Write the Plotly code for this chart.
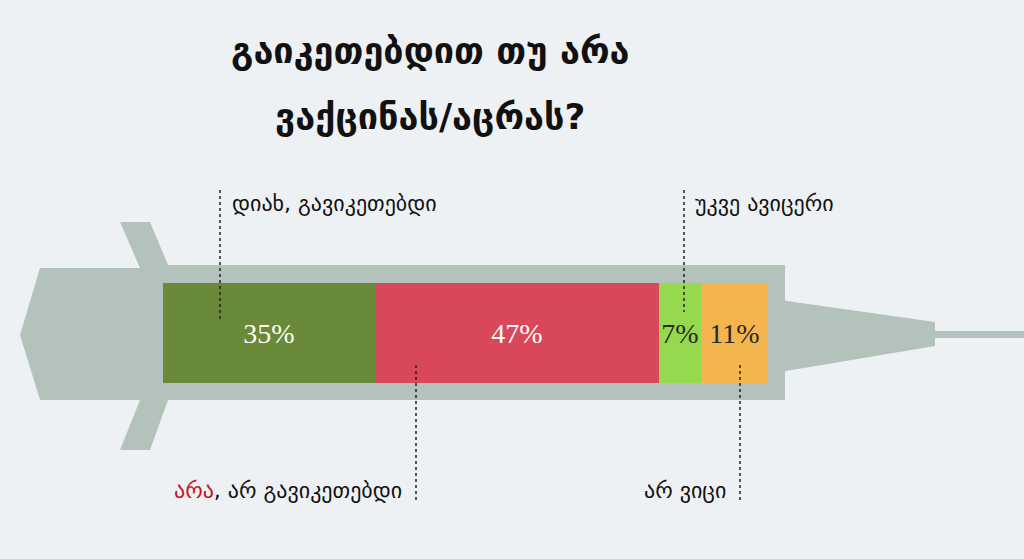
import plotly.graph_objects as go

categories = ["დიახ, გავიკეთებდი", "არა, არ გავიკეთებდი", "უკვე ავიცერი", "არ ვიცი"]
values = [35, 47, 7, 11]
colors = ["#698a38", "#d9475a", "#95d94f", "#f4b54e"]
text_colors = ["white", "white", "#2a2a2a", "#2a2a2a"]

W, H = 1024, 559
def px(x): return x / W
def py(y): return 1 - y / H

fig = go.Figure()
for c, v, col, tc in zip(categories, values, colors, text_colors):
    fig.add_trace(go.Bar(x=[v], y=[H - 333], orientation="h", width=100,
                         marker=dict(color=col, line=dict(width=0)),
                         text=[f"{v}%"], textposition="inside", insidetextanchor="middle",
                         textangle=0, constraintext="none",
                         textfont=dict(family="Liberation Serif", size=28, color=tc),
                         name=c, showlegend=False, hoverinfo="skip"))

def poly(pts, color):
    path = "M " + " L ".join(f"{px(x)},{py(y)}" for x, y in pts) + " Z"
    return dict(type="path", xref="paper", yref="paper", path=path,
                fillcolor=color, line=dict(width=0), layer="below")

body = "#b3c3bb"
shapes = [
    poly([(935, 331), (1024, 331), (1024, 338), (935, 338)], body),
    poly([(780, 300), (935, 322), (935, 346), (780, 372)], body),
    poly([(40, 268), (160, 268), (160, 400), (40, 400), (20, 335)], body),
    poly([(120, 222), (150, 222), (168, 265), (168, 400), (150, 450), (120, 450), (140, 400), (140, 268)], body),
    poly([(160, 265), (785, 265), (785, 400), (160, 400)], body),
    poly([(163, 283), (768, 283), (768, 383), (163, 383)], "#dfe6e2"),
]
def vline(x, y0, y1):
    return dict(type="line", xref="paper", yref="paper", x0=px(x), x1=px(x), y0=py(y0), y1=py(y1),
                line=dict(color="#222", width=1.5, dash="dot"))
shapes += [vline(220, 190, 320), vline(684, 190, 312), vline(416, 365, 500), vline(740, 365, 500)]

def ann(x, y, text, anchor="left", size=22):
    return dict(x=px(x), y=py(y), xref="paper", yref="paper", text=text, showarrow=False,
                xanchor=anchor, yanchor="middle",
                font=dict(family="DejaVu Sans", size=size, color="#111"))

annotations = [
    ann(430, 50, "<b>გაიკეთებდით თუ არა</b>", "center", 36),
    ann(430, 116, "<b>ვაქცინას/აცრას?</b>", "center", 36),
    ann(230, 203, categories[0]),
    ann(693, 203, categories[2]),
    ann(404, 490, "<span style='color:#c0172a'>არა</span>, არ გავიკეთებდი", "right"),
    ann(728, 490, categories[3], "right"),
]

x0 = -163 / 6.05
fig.update_layout(
    barmode="stack", width=W, height=H, margin=dict(l=0, r=0, t=0, b=0),
    paper_bgcolor="#eef1f3", plot_bgcolor="rgba(0,0,0,0)",
    xaxis=dict(range=[x0, x0 + W / 6.05], visible=False, fixedrange=True),
    yaxis=dict(range=[0, H], visible=False, fixedrange=True),
    shapes=shapes, annotations=annotations, bargap=0,
)
fig.write_html("out.html", config={"displayModeBar": False},
               post_script="document.body.style.margin='0';document.body.style.background='#eef1f3';")
